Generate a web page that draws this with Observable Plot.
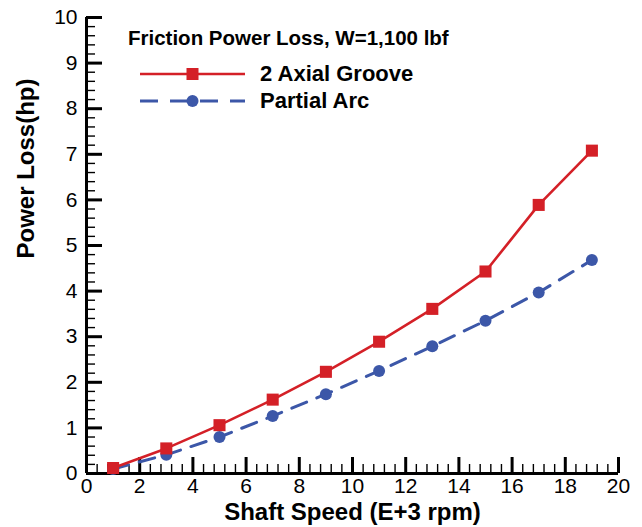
<!DOCTYPE html>
<html>
<head>
<meta charset="utf-8">
<script src="https://cdn.jsdelivr.net/npm/d3@7"></script>
<script src="https://cdn.jsdelivr.net/npm/@observablehq/plot@0.6"></script>
<style>
  html, body { margin: 0; padding: 0; background: #fff; }
  #wrap { position: relative; width: 642px; height: 527px; font-family: Arial, "Liberation Sans", Helvetica, sans-serif; }
  #legend { position: absolute; left: 128px; top: 26px; color: #000; font-weight: bold; }
  #legend .title { font-size: 20.5px; line-height: 24px; white-space: nowrap; margin-bottom: 10px; }
  #legend .row { display: flex; align-items: center; height: 27px; margin-left: 12px; }
  #legend .row span { font-size: 22px; margin-left: 15px; white-space: nowrap; }
</style>
</head>
<body>
<div id="wrap"></div>
<script>
const speed = [1, 3, 5, 7, 9, 11, 13, 15, 17, 19];
const axialGroove = [0.12, 0.55, 1.06, 1.62, 2.23, 2.89, 3.61, 4.43, 5.89, 7.08];
const partialArc = [0.10, 0.41, 0.80, 1.26, 1.74, 2.25, 2.79, 3.35, 3.97, 4.68];
const seriesNames = ["2 Axial Groove", "Partial Arc"];
const seriesColors = ["#d42027", "#3c57a8"];
const xTicks = [0, 2, 4, 6, 8, 10, 12, 14, 16, 18, 20];
const xMinor = d3.range(0, 20.0001, 0.4).filter(v => Math.abs(v / 2 - Math.round(v / 2)) > 1e-6);
const yTicks = [0, 1, 2, 3, 4, 5, 6, 7, 8, 9, 10];
const yMinor = d3.range(0, 10.0001, 0.2).filter(v => Math.abs(v - Math.round(v)) > 1e-6);
const titleText = "Friction Power Loss, W=1,100 lbf";
const xLabel = "Shaft Speed (E+3 rpm)";
const yLabel = "Power Loss(hp)";

const red = speed.map((x, i) => ({x, y: axialGroove[i]}));
const blue = speed.map((x, i) => ({x, y: partialArc[i]}));

const W = 642, H = 527, mL = 86, mR = 24, mT = 17, mB = 54;
const xDomain = [0, 20], yDomain = [0, 10];
const plotW = W - mL - mR, plotH = H - mT - mB;
// tick lengths in pixels, converted to data units of the perpendicular scale
const majorLen = 16, minorLen = 9;
const yPerPx = (yDomain[1] - yDomain[0]) / plotH;
const xPerPx = (xDomain[1] - xDomain[0]) / plotW;

const chart = Plot.plot({
  width: W,
  height: H,
  marginLeft: mL,
  marginRight: mR,
  marginTop: mT,
  marginBottom: mB,
  style: {fontFamily: "Arial, 'Liberation Sans', sans-serif", background: "#fff", color: "#000"},
  x: {domain: xDomain},
  y: {domain: yDomain},
  marks: [
    Plot.axisX(xTicks, {tickSize: 0, tickPadding: 5, fontSize: 21, label: null}),
    Plot.axisY(yTicks, {tickSize: 0, tickPadding: 9, fontSize: 21, label: null}),
    // inward tick marks
    Plot.ruleX(xMinor, {x: d => d, y1: yDomain[0], y2: yDomain[0] + minorLen * yPerPx, stroke: "#000", strokeWidth: 1.4}),
    Plot.ruleX(xTicks, {x: d => d, y1: yDomain[0], y2: yDomain[0] + majorLen * yPerPx, stroke: "#000", strokeWidth: 3}),
    Plot.ruleY(yMinor, {y: d => d, x1: xDomain[0], x2: xDomain[0] + minorLen * xPerPx, stroke: "#000", strokeWidth: 1.4}),
    Plot.ruleY(yTicks, {y: d => d, x1: xDomain[0], x2: xDomain[0] + majorLen * xPerPx, stroke: "#000", strokeWidth: 3}),
    Plot.ruleX([0], {stroke: "#000", strokeWidth: 3}),
    Plot.ruleY([0], {stroke: "#000", strokeWidth: 3}),
    Plot.line(blue, {x: "x", y: "y", stroke: seriesColors[1], strokeWidth: 3, strokeDasharray: "16,11"}),
    Plot.line(red, {x: "x", y: "y", stroke: seriesColors[0], strokeWidth: 2.6}),
    Plot.dot(blue, {x: "x", y: "y", r: 6, fill: seriesColors[1], stroke: "none"}),
    Plot.dot(red, {x: "x", y: "y", symbol: "square", r: 6.8, fill: seriesColors[0], stroke: "none"}),
    Plot.text([xLabel], {frameAnchor: "bottom", dy: 38.5, lineAnchor: "middle", fontSize: 24, fontWeight: "bold"}),
    Plot.text([yLabel], {frameAnchor: "left", dx: -60, dy: 13, rotate: -90, lineAnchor: "middle", fontSize: 24, fontWeight: "bold"})
  ]
});

const wrap = document.getElementById("wrap");
wrap.appendChild(chart);

const legend = document.createElement("div");
legend.id = "legend";
const sw = (i) => {
  const c = seriesColors[i];
  const marker = i === 0
    ? `<rect x="46.5" y="8" width="12" height="12" fill="${c}"/>`
    : `<circle cx="52.5" cy="14" r="6" fill="${c}"/>`;
  const line = i === 0
    ? `<line x1="0" x2="105" y1="14" y2="14" stroke="${c}" stroke-width="2.6"/>`
    : `<line x1="0" x2="105" y1="14" y2="14" stroke="${c}" stroke-width="3" stroke-dasharray="18,12"/>`;
  return `<svg width="105" height="28" style="display:block">${line}${marker}</svg>`;
};
legend.innerHTML = `<div class="title">${titleText}</div>` +
  seriesNames.map((n, i) => `<div class="row">${sw(i)}<span>${n}</span></div>`).join("");
wrap.appendChild(legend);
</script>
</body>
</html>
